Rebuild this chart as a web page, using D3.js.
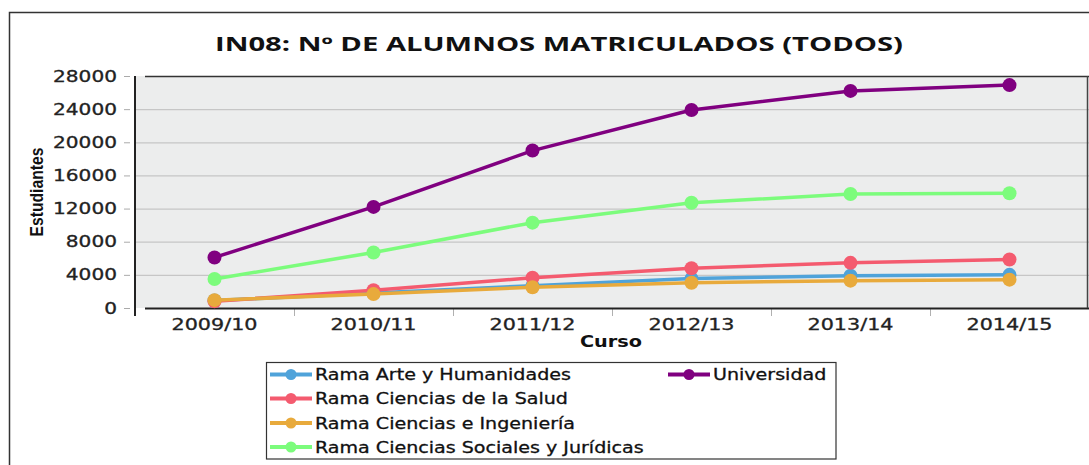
<!DOCTYPE html>
<html>
<head>
<meta charset="utf-8">
<script src="https://cdn.jsdelivr.net/npm/d3@7"></script>
<style>
  html, body { margin: 0; padding: 0; background: #fff; }
  svg { display: block; }
</style>
</head>
<body>
<svg id="chart" width="1089" height="465"></svg>
<script>
const titleText = "IN08: Nº DE ALUMNOS MATRICULADOS (TODOS)";
const yLabel = "Estudiantes";
const xLabel = "Curso";
const categories = ["2009/10", "2010/11", "2011/12", "2012/13", "2013/14", "2014/15"];
const yTicks = [0, 4000, 8000, 12000, 16000, 20000, 24000, 28000];

const seriesNames = [
  "Rama Arte y Humanidades",
  "Rama Ciencias de la Salud",
  "Rama Ciencias e Ingeniería",
  "Rama Ciencias Sociales y Jurídicas",
  "Universidad"
];
const seriesColors = ["#4fa3da", "#f45b6f", "#e8aa3c", "#7cfc7c", "#800080"];

const arteHumanidades = [900, 1800, 2700, 3550, 3900, 4000];
const cienciasSalud = [800, 2150, 3650, 4800, 5450, 5850];
const cienciasIngenieria = [950, 1680, 2500, 3050, 3300, 3420];
const cienciasSociales = [3500, 6700, 10300, 12700, 13750, 13850];
const universidad = [6100, 12200, 19000, 23900, 26200, 26900];

const seriesValues = [arteHumanidades, cienciasSalud, cienciasIngenieria, cienciasSociales, universidad];

const svg = d3.select("#chart");
const pLeft = 135, pRight = 1089, pTop = 76, pBottom = 308;

const x = d3.scaleBand().domain(categories).range([pLeft, pRight]).padding(0);
const y = d3.scaleLinear().domain([0, 28000]).range([pBottom, pTop]);

function stretch(sel, factor) {
  sel.each(function() {
    const w = this.getComputedTextLength();
    d3.select(this).attr("textLength", w * factor).attr("lengthAdjust", "spacingAndGlyphs");
  });
}

// outer frame
svg.append("path").attr("d", `M9.5,465 L9.5,12.5 L1089,12.5`)
  .attr("fill", "none").attr("stroke", "#333").attr("stroke-width", 1.5);

// title
svg.append("text").attr("x", 559).attr("y", 51).attr("text-anchor", "middle")
  .attr("font-family", "'Open Sans', 'DejaVu Sans', sans-serif").attr("font-weight", "bold")
  .attr("font-size", 19).attr("fill", "#111").text(titleText)
  .attr("textLength", 688).attr("lengthAdjust", "spacingAndGlyphs");

// plot background
svg.append("rect").attr("x", pLeft).attr("y", pTop).attr("width", pRight - pLeft).attr("height", pBottom - pTop)
  .attr("fill", "#eceded");

// gridlines
svg.append("g").selectAll("line").data(yTicks.filter(d => d > 0 && d < 28000)).join("line")
  .attr("x1", pLeft).attr("x2", pRight).attr("y1", d => y(d) + 0.5).attr("y2", d => y(d) + 0.5)
  .attr("stroke", "#c6c6c6").attr("stroke-width", 1.2);

// y tick marks
svg.append("g").selectAll("line").data(yTicks).join("line")
  .attr("x1", 124).attr("x2", 130).attr("y1", d => y(d) + 0.5).attr("y2", d => y(d) + 0.5)
  .attr("stroke", "#aaa").attr("stroke-width", 1);

// x tick marks (band boundaries)
svg.append("g").selectAll("line").data(categories).join("line")
  .attr("x1", d => x(d) + 0.5).attr("x2", d => x(d) + 0.5).attr("y1", pBottom).attr("y2", 316)
  .attr("stroke", "#b0b0b0").attr("stroke-width", 1);

// frame lines
svg.append("line").attr("x1", 145).attr("x2", pRight).attr("y1", pTop + 0.5).attr("y2", pTop + 0.5)
  .attr("stroke", "#333").attr("stroke-width", 1.5);
svg.append("line").attr("x1", 145).attr("x2", pRight).attr("y1", pBottom + 0.5).attr("y2", pBottom + 0.5)
  .attr("stroke", "#222").attr("stroke-width", 2);
svg.append("line").attr("x1", pLeft).attr("x2", pLeft).attr("y1", pTop).attr("y2", 316)
  .attr("stroke", "#222").attr("stroke-width", 2);
svg.append("line").attr("x1", 1087.5).attr("x2", 1087.5).attr("y1", pTop).attr("y2", pBottom)
  .attr("stroke", "#444").attr("stroke-width", 1.5);

// y tick labels
const yt = svg.append("g").selectAll("text").data(yTicks).join("text")
  .attr("x", 117).attr("y", d => y(d) + 5.5).attr("text-anchor", "end")
  .attr("font-family", "'DejaVu Sans', sans-serif").attr("font-size", 15).attr("fill", "#222")
  .attr("stroke", "#222").attr("stroke-width", 0.3)
  .text(d => d);
stretch(yt, 1.34);

// x tick labels
const xt = svg.append("g").selectAll("text").data(categories).join("text")
  .attr("x", d => x(d) + x.bandwidth() / 2).attr("y", 330).attr("text-anchor", "middle")
  .attr("font-family", "'DejaVu Sans', sans-serif").attr("font-size", 15).attr("fill", "#222")
  .attr("stroke", "#222").attr("stroke-width", 0.3)
  .text(d => d);
stretch(xt, 1.38);

// axis titles
svg.append("text").attr("x", 611).attr("y", 347).attr("text-anchor", "middle")
  .attr("font-family", "'DejaVu Sans', sans-serif").attr("font-weight", "bold")
  .attr("font-size", 15).attr("fill", "#111").text(xLabel)
  .attr("textLength", 62).attr("lengthAdjust", "spacingAndGlyphs");

svg.append("text").attr("transform", "translate(43,192) rotate(-90)").attr("text-anchor", "middle")
  .attr("font-family", "'Liberation Sans Narrow', 'Liberation Sans', sans-serif").attr("font-weight", "bold")
  .attr("font-size", 18).attr("fill", "#111").text(yLabel)
  .attr("textLength", 89).attr("lengthAdjust", "spacingAndGlyphs");

// series lines & points
const line = d3.line().x((d, i) => x(categories[i]) + x.bandwidth() / 2).y(d => y(d));
seriesValues.forEach((vals, si) => {
  const g = svg.append("g");
  g.append("path").attr("d", line(vals)).attr("fill", "none")
    .attr("stroke", seriesColors[si]).attr("stroke-width", 3.5).attr("stroke-linejoin", "round");
  g.selectAll("circle").data(vals).join("circle")
    .attr("cx", (d, i) => x(categories[i]) + x.bandwidth() / 2).attr("cy", d => y(d))
    .attr("r", 7).attr("fill", seriesColors[si]);
});

// legend
svg.append("rect").attr("x", 266.5).attr("y", 362.5).attr("width", 569.5).attr("height", 96.5)
  .attr("fill", "#fff").attr("stroke", "#333").attr("stroke-width", 1.2);
const legendPos = [
  {x: 270, y: 374.5}, {x: 270, y: 398.5}, {x: 270, y: 423}, {x: 270, y: 447}, {x: 668, y: 374.5}
];
seriesNames.forEach((name, i) => {
  const p = legendPos[i];
  const g = svg.append("g");
  g.append("line").attr("x1", p.x).attr("x2", p.x + 42).attr("y1", p.y).attr("y2", p.y)
    .attr("stroke", seriesColors[i]).attr("stroke-width", 4);
  g.append("circle").attr("cx", p.x + 21).attr("cy", p.y).attr("r", 5.5).attr("fill", seriesColors[i]);
  const t = g.append("text").attr("x", p.x + 45).attr("y", p.y + 5.8)
    .attr("font-family", "'DejaVu Sans', sans-serif").attr("font-size", 15.5).attr("fill", "#111")
    .attr("stroke", "#111").attr("stroke-width", 0.3)
    .text(name);
  stretch(t, 1.23);
});
</script>
</body>
</html>
